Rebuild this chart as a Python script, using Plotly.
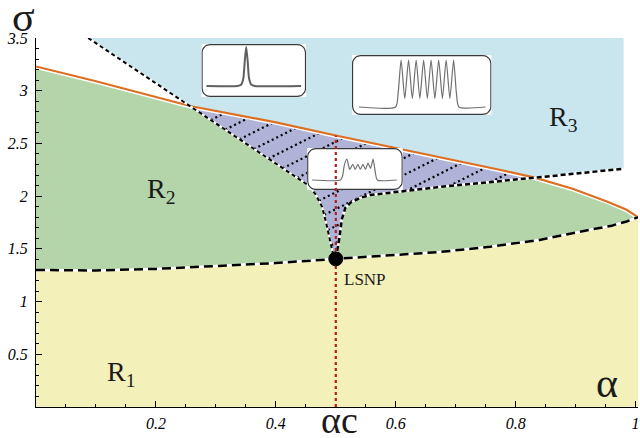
import numpy as np
import plotly.graph_objects as go

# ---------------- data ----------------
# upper (orange) boundary sigma(alpha)
orange_a = [0.0, 0.1, 0.257, 0.4, 0.5, 0.65, 0.773, 0.832, 0.895, 0.952, 0.985, 1.0, 1.004]
orange_s = [3.23, 3.09, 2.855, 2.70, 2.575, 2.40, 2.25, 2.175, 2.07, 1.95, 1.87, 1.815, 1.80]
# lower dashed boundary (R1 / R2)
low_a = [0.0, 0.1, 0.2, 0.3, 0.4, 0.5, 0.6, 0.673, 0.757, 0.84, 0.923, 0.96, 0.985, 1.0, 1.004]
low_s = [1.30, 1.295, 1.31, 1.335, 1.365, 1.405, 1.44, 1.47, 1.52, 1.585, 1.68, 1.72, 1.76, 1.79, 1.80]
# left dashed boundary of the hatched region (top -> cusp)
left_a = [0.087, 0.257, 0.407, 0.455, 0.466, 0.477, 0.483, 0.488, 0.492, 0.495, 0.5]
left_s = [3.50, 2.855, 2.28, 2.10, 2.02, 1.90, 1.77, 1.65, 1.55, 1.46, 1.405]
# right/lower dashed boundary of the hatched region (cusp -> orange)
right_a = [0.5, 0.503, 0.506, 0.51, 0.516, 0.525, 0.54, 0.557, 0.673, 0.832]
right_s = [1.405, 1.49, 1.60, 1.78, 1.89, 1.94, 1.983, 2.01, 2.087, 2.175]
# lower edge of R3 and its extent
r3_a = [0.832, 0.98]
r3_s = [2.175, 2.26]
r3_top = 3.5

alpha_c = 0.5
sigma_lsnp = 1.405

x_ticks = [0.2, 0.4, 0.6, 0.8, 1.0]
x_tick_text = ["0.2", "0.4", "0.6", "0.8", "1"]
y_ticks = [0.5, 1.0, 1.5, 2.0, 2.5, 3.0, 3.5]
y_tick_text = ["0.5", "1", "1.5", "2", "2.5", "3", "3.5"]

# inset profiles (normalised)
insetA_x = [0, 0.33, 0.365, 0.39, 0.405, 0.42, 0.435, 0.45, 0.475, 0.51, 1]
insetA_y = [0, 0, 0.03, 0.2, 0.65, 1.0, 0.65, 0.2, 0.03, 0, 0]
insetB_x = [0, 0.29, 0.31, 0.333, 0.3625, 0.392, 0.422, 0.452, 0.4815, 0.511, 0.5405,
            0.570, 0.600, 0.630, 0.6595, 0.689, 0.7185, 0.748, 0.77, 0.79, 1]
insetB_y = [0, 0, 0.3, 1, 0.18, 1, 0.18, 1, 0.18, 1, 0.18, 1, 0.18, 1, 0.18, 1, 0.18, 1, 0.3, 0, 0]
insetC_x = [0, 0.335, 0.36, 0.38, 0.41, 0.445, 0.48, 0.51, 0.54, 0.57, 0.60, 0.63,
            0.66, 0.69, 0.72, 0.745, 0.77, 1]
insetC_y = [0, 0, 0.2, 0.7, 1.0, 0.5, 0.75, 0.5, 0.75, 0.5, 0.75, 0.5, 0.8, 0.55, 1.0, 0.4, 0, 0]

# ---------------- styling / layout constants ----------------
W, H = 640, 438
ML, MR, MT, MB = 36, 0, 38, 31
XMAX = 1.004
YMAX = 3.5
PW, PH = W - ML - MR, H - MT - MB

YELLOW = "#F4F0BA"
GREEN = "#B3D5A9"
BLUE = "#C9E5EE"
PURPLE = "#AFB3D8"
ORANGE = "#DD6E22"
SERIF = "Liberation Serif"

oa, os_ = np.array(orange_a), np.array(orange_s)
la, ls = np.array(left_a), np.array(left_s)
ra, rs = np.array(right_a), np.array(right_s)
wa, ws = np.array(low_a), np.array(low_s)

a_left_meet = left_a[1]
a_right_meet = right_a[-1]

m_or_l = oa <= a_left_meet
m_or_mid = (oa >= a_left_meet) & (oa <= a_right_meet)
m_or_r = oa >= a_right_meet

# green polygon: lower boundary forward, upper boundary reversed
up_a = np.concatenate([oa[m_or_l], la[2:], ra[1:], oa[m_or_r][1:]])
up_s = np.concatenate([os_[m_or_l], ls[2:], rs[1:], os_[m_or_r][1:]])
green_a = np.concatenate([wa, up_a[::-1]])
green_s = np.concatenate([ws, up_s[::-1]])

# purple (hatched) polygon
pur_a = np.concatenate([oa[m_or_mid], ra[::-1][1:], la[1:][::-1][1:]])
pur_s = np.concatenate([os_[m_or_mid], rs[::-1][1:], ls[1:][::-1][1:]])

# blue polygon (R3)
blue_a = np.concatenate([[left_a[0], r3_a[1]], np.array(r3_a)[::-1], oa[m_or_mid][::-1][1:], [left_a[0]]])
blue_s = np.concatenate([[r3_top, r3_top], np.array(r3_s)[::-1], os_[m_or_mid][::-1][1:], [r3_top]])


def clip_lines(poly_a, poly_s, slope, offsets):
    xs, ys = [], []
    pa = np.append(poly_a, poly_a[0])
    ps = np.append(poly_s, poly_s[0])
    for c in offsets:
        f = ps - slope * pa - c
        hits = []
        for i in range(len(pa) - 1):
            if (f[i] > 0) != (f[i + 1] > 0):
                t = f[i] / (f[i] - f[i + 1])
                hits.append(pa[i] + t * (pa[i + 1] - pa[i]))
        hits.sort()
        for j in range(0, len(hits) - 1, 2):
            for a in (hits[j], hits[j + 1]):
                xs.append(a)
                ys.append(slope * a + c)
            xs.append(None)
            ys.append(None)
    return xs, ys


hatch_slope = 0.5 * (PW / XMAX) / (PH / YMAX)
hx, hy = clip_lines(pur_a, pur_s, hatch_slope, np.arange(2.05, -0.25, -0.16))

fig = go.Figure()


def add(x, y, **kw):
    fig.add_trace(go.Scatter(x=list(x), y=list(y), showlegend=False, hoverinfo="skip", **kw))


add(wa, ws, mode="lines", line=dict(width=0), fill="tozeroy", fillcolor=YELLOW)
add(green_a, green_s, mode="lines", line=dict(width=0), fill="toself", fillcolor=GREEN)
add(pur_a, pur_s, mode="lines", line=dict(width=0), fill="toself", fillcolor=PURPLE)
add(blue_a, blue_s, mode="lines", line=dict(width=0), fill="toself", fillcolor=BLUE)
add(hx, hy, mode="lines", line=dict(color="black", width=2.2, dash="2px,3px"))

# orange line with white underlay
add(oa, os_ - 0.012, mode="lines", line=dict(color="white", width=2.5))
add(oa, os_, mode="lines", line=dict(color=ORANGE, width=2.2))

# dashed boundaries
add(wa, ws, mode="lines", line=dict(color="white", width=2.5))
add(wa, ws, mode="lines", line=dict(color="black", width=2.5, dash="9px,5px"))
add(la, ls, mode="lines", line=dict(color="white", width=2))
add(la, ls, mode="lines", line=dict(color="black", width=2, dash="4px,3px"))
ba = np.concatenate([ra, r3_a[1:]])
bs = np.concatenate([rs, r3_s[1:]])
add(ba, bs, mode="lines", line=dict(color="white", width=2.5))
add(ba, bs, mode="lines", line=dict(color="black", width=2.5, dash="5px,3px"))

# ---------------- insets ----------------
insets = [
    # box px (x0, y0, x1, y1), curve px (cx0, cx1, base, top), profile, colour, width
    ((202, 44, 307, 97), (207, 302, 86, 47), insetA_x, insetA_y, "#606060", 2.0),
    ((353, 55, 493, 115), (360, 487, 107, 60), insetB_x, insetB_y, "#707070", 1.2),
    ((308, 148, 404, 190), (313, 398, 180, 159), insetC_x, insetC_y, "#707070", 1.2),
]


def rounded_rect(x0, x1, y0, y1, rx, ry, n=8):
    pts_x, pts_y = [], []
    corners = [(x1 - rx, y1 - ry, 0), (x0 + rx, y1 - ry, 90), (x0 + rx, y0 + ry, 180), (x1 - rx, y0 + ry, 270)]
    for cx, cy, start in corners:
        th = np.radians(np.linspace(start, start + 90, n))
        pts_x += list(cx + rx * np.cos(th))
        pts_y += list(cy + ry * np.sin(th))
    pts_x.append(pts_x[0])
    pts_y.append(pts_y[0])
    return pts_x, pts_y


layout_axes = {}
for k, (box, cur, px, py, col, lw) in enumerate(insets, start=2):
    bx0, by0, bx1, by1 = box
    cx0, cx1, base, top = cur
    sx = 1.0 / (cx1 - cx0)
    sy = 1.0 / (base - top)
    xr = [(bx0 - cx0) * sx, (bx1 - cx0) * sx]
    yr = [(base - by1) * sy, (base - by0) * sy]
    dom_x = [(bx0 - ML) / PW, (bx1 - ML) / PW]
    dom_y = [(H - MB - by1) / PH, (H - MB - by0) / PH]
    layout_axes[f"xaxis{k}"] = dict(domain=dom_x, range=xr, visible=False, fixedrange=True, anchor=f"y{k}")
    layout_axes[f"yaxis{k}"] = dict(domain=dom_y, range=yr, visible=False, fixedrange=True, anchor=f"x{k}")
    eps = 0.6
    rxp, ryp = 8 * sx, 8 * sy
    rx_, ry_ = rounded_rect(xr[0] + eps * sx, xr[1] - eps * sx, yr[0] + eps * sy, yr[1] - eps * sy, rxp, ryp)
    fig.add_trace(go.Scatter(x=rx_, y=ry_, mode="lines", fill="toself", fillcolor="white",
                             line=dict(color="#3a3a3a", width=1.2), xaxis=f"x{k}", yaxis=f"y{k}",
                             showlegend=False, hoverinfo="skip"))
    fig.add_trace(go.Scatter(x=px, y=py, mode="lines", line=dict(color=col, width=lw, shape="spline", smoothing=0.6),
                             xaxis=f"x{k}", yaxis=f"y{k}", showlegend=False, hoverinfo="skip"))

# ---------------- shapes above ----------------
sig_top = float(np.interp(alpha_c, orange_a, orange_s))
shapes = [
    dict(type="line", xref="x", yref="y", x0=alpha_c, x1=alpha_c, y0=0, y1=sig_top,
         line=dict(color="#B02020", width=2.2, dash="dot"), layer="above"),
    dict(type="circle", xref="x", yref="y", xsizemode="pixel", ysizemode="pixel",
         xanchor=alpha_c, yanchor=sigma_lsnp, x0=-7, x1=7, y0=-7, y1=7,
         fillcolor="black", line=dict(color="black", width=1), layer="above"),
]

ann_font = dict(family=SERIF, color="#1a1a1a")
C = dict(showarrow=False, xanchor="center", yanchor="middle")
annotations = [
    dict(text="R<sub>1</sub>", x=0.141, y=0.32, xref="x", yref="y", font=dict(size=28, **ann_font), **C),
    dict(text="R<sub>2</sub>", x=0.208, y=2.05, xref="x", yref="y", font=dict(size=28, **ann_font), **C),
    dict(text="R<sub>3</sub>", x=0.879, y=2.74, xref="x", yref="y", font=dict(size=28, **ann_font), **C),
    dict(text="LSNP", x=0.548, y=1.21, xref="x", yref="y", font=dict(size=17, **ann_font), **C),
    dict(text="α", x=0.953, y=0.23, xref="x", yref="y", font=dict(size=42, **ann_font), **C),
    dict(text="αc", x=alpha_c, y=0, xref="x", yref="paper", yshift=-13, xshift=4,
         font=dict(size=38, **ann_font), **C),
    dict(text="σ", x=-0.02, y=1.058, xref="paper", yref="paper", font=dict(size=42, **ann_font), **C),
]

tickfont = dict(family=SERIF, size=16, color="black", style="italic")
fig.update_layout(
    width=W, height=H, margin=dict(l=ML, r=MR, t=MT, b=MB),
    paper_bgcolor="white", plot_bgcolor="white",
    xaxis=dict(range=[0, XMAX], showgrid=False, zeroline=False, showline=True, linecolor="black", linewidth=1.3,
               ticks="inside", ticklen=6, tickcolor="black", tickvals=x_ticks, ticktext=x_tick_text,
               tickfont=tickfont, ticklabelstandoff=2, ticklabeloverflow="allow",
               minor=dict(ticks="inside", ticklen=3, dtick=0.05, tick0=0, tickcolor="black", showgrid=False),
               fixedrange=True),
    yaxis=dict(range=[0, YMAX], showgrid=False, zeroline=False, showline=True, linecolor="black", linewidth=1.3,
               ticks="inside", ticklen=6, tickcolor="black", tickvals=y_ticks, ticktext=y_tick_text,
               tickfont=tickfont, ticklabelstandoff=4, ticklabeloverflow="allow",
               minor=dict(ticks="inside", ticklen=3, dtick=0.1, tick0=0, tickcolor="black", showgrid=False),
               fixedrange=True),
    shapes=shapes, annotations=annotations,
    **layout_axes,
)

fig.write_html("out.html")
